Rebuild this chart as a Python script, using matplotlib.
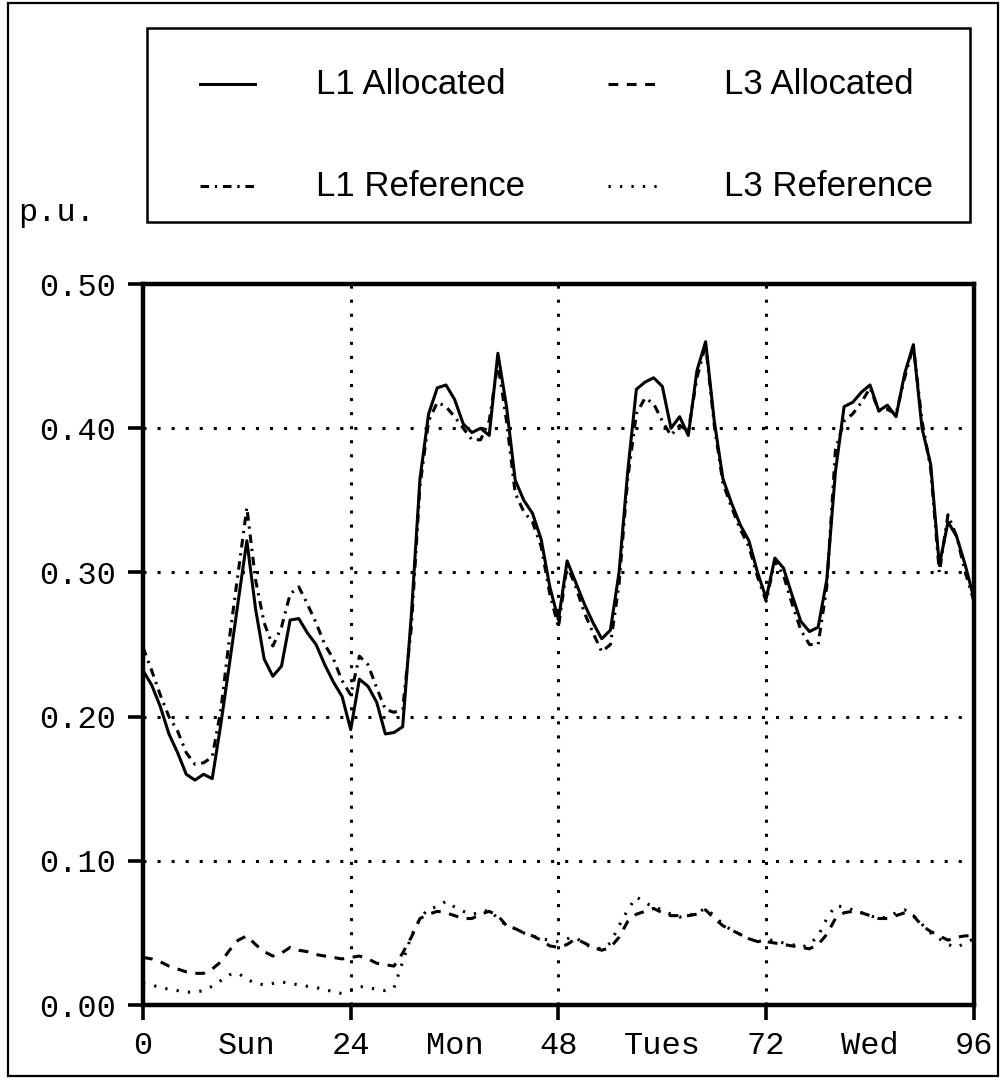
import numpy as np
import matplotlib
matplotlib.use('Agg')
import matplotlib.pyplot as plt
from matplotlib.patches import Rectangle

#Hours from Sunday 00:00 to Thursday 00:00
HOURS = list(range(0, 97))

#Upper pair (L1) in p.u.
L1_ALLOCATED = [0.232, 0.222, 0.207, 0.188, 0.175, 0.160, 0.156, 0.160, 0.157, 0.195,
                0.237, 0.280, 0.322, 0.275, 0.240, 0.228, 0.235, 0.267, 0.268, 0.258,
                0.250, 0.236, 0.224, 0.214, 0.191, 0.226, 0.221, 0.210, 0.188, 0.189,
                0.193, 0.270, 0.365, 0.410, 0.428, 0.430, 0.420, 0.403, 0.397, 0.400,
                0.395, 0.452, 0.415, 0.364, 0.350, 0.341, 0.323, 0.290, 0.267, 0.308,
                0.293, 0.278, 0.265, 0.254, 0.260, 0.300, 0.370, 0.427, 0.432, 0.435,
                0.429, 0.400, 0.408, 0.395, 0.440, 0.460, 0.405, 0.365, 0.348, 0.333,
                0.322, 0.300, 0.282, 0.310, 0.303, 0.284, 0.266, 0.259, 0.262, 0.295,
                0.370, 0.415, 0.418, 0.425, 0.430, 0.412, 0.416, 0.408, 0.438, 0.458,
                0.400, 0.375, 0.305, 0.335, 0.325, 0.305, 0.282]
L1_REFERENCE = [0.248, 0.232, 0.215, 0.200, 0.190, 0.175, 0.167, 0.168, 0.172, 0.205,
                0.255, 0.300, 0.345, 0.295, 0.265, 0.249, 0.262, 0.285, 0.290, 0.278,
                0.265, 0.250, 0.240, 0.225, 0.215, 0.242, 0.236, 0.220, 0.205, 0.203,
                0.205, 0.262, 0.360, 0.405, 0.418, 0.415, 0.408, 0.400, 0.392, 0.392,
                0.405, 0.445, 0.405, 0.355, 0.342, 0.335, 0.318, 0.285, 0.262, 0.305,
                0.290, 0.272, 0.258, 0.245, 0.250, 0.292, 0.365, 0.410, 0.421, 0.417,
                0.405, 0.395, 0.402, 0.398, 0.435, 0.458, 0.402, 0.362, 0.345, 0.330,
                0.318, 0.297, 0.280, 0.308, 0.298, 0.278, 0.260, 0.250, 0.250, 0.290,
                0.385, 0.405, 0.410, 0.418, 0.428, 0.412, 0.413, 0.410, 0.435, 0.457,
                0.405, 0.372, 0.300, 0.340, 0.325, 0.300, 0.280]

#Lower pair (L3) in p.u.
L3_ALLOCATED = [0.033, 0.032, 0.030, 0.027, 0.025, 0.023, 0.022, 0.022, 0.025, 0.030,
                0.038, 0.045, 0.048, 0.042, 0.037, 0.034, 0.036, 0.040, 0.038, 0.037,
                0.035, 0.034, 0.033, 0.032, 0.033, 0.034, 0.032, 0.029, 0.028, 0.027,
                0.036, 0.047, 0.060, 0.063, 0.065, 0.064, 0.062, 0.060, 0.060, 0.063,
                0.065, 0.062, 0.055, 0.053, 0.050, 0.048, 0.045, 0.041, 0.040, 0.042,
                0.046, 0.043, 0.040, 0.038, 0.040, 0.047, 0.058, 0.063, 0.065, 0.067,
                0.064, 0.062, 0.062, 0.062, 0.063, 0.066, 0.060, 0.055, 0.052, 0.049,
                0.046, 0.044, 0.044, 0.043, 0.042, 0.041, 0.040, 0.039, 0.042, 0.049,
                0.060, 0.064, 0.065, 0.064, 0.062, 0.060, 0.060, 0.062, 0.064, 0.062,
                0.055, 0.051, 0.048, 0.045, 0.047, 0.048, 0.048]
L3_REFERENCE = [0.015, 0.014, 0.012, 0.011, 0.010, 0.009, 0.009, 0.010, 0.013, 0.017,
                0.021, 0.022, 0.018, 0.015, 0.014, 0.015, 0.016, 0.015, 0.014, 0.013,
                0.012, 0.011, 0.009, 0.008, 0.010, 0.013, 0.012, 0.011, 0.010, 0.012,
                0.030, 0.048, 0.060, 0.067, 0.068, 0.072, 0.068, 0.065, 0.063, 0.064,
                0.066, 0.060, 0.055, 0.053, 0.050, 0.048, 0.046, 0.045, 0.044, 0.046,
                0.047, 0.042, 0.040, 0.039, 0.043, 0.055, 0.066, 0.075, 0.071, 0.068,
                0.066, 0.063, 0.061, 0.062, 0.064, 0.067, 0.062, 0.056, 0.052, 0.049,
                0.046, 0.044, 0.045, 0.045, 0.043, 0.042, 0.040, 0.042, 0.048, 0.060,
                0.069, 0.068, 0.066, 0.064, 0.062, 0.060, 0.061, 0.064, 0.066, 0.062,
                0.056, 0.050, 0.046, 0.042, 0.040, 0.043, 0.046]

SERIES_NAMES = ['L1 Allocated', 'L3 Allocated', 'L1 Reference', 'L3 Reference']

#Axis labels
X_TICKS = [0, 24, 48, 72, 96]
DAY_POS = [12, 36, 60, 84]
DAY_LABELS = ['Sun', 'Mon', 'Tues', 'Wed']
Y_TICKS = [0.0, 0.1, 0.2, 0.3, 0.4, 0.5]
Y_LABELS = ['0.00', '0.10', '0.20', '0.30', '0.40', '0.50']

MONO = 'Liberation Mono'
SANS = 'Liberation Sans'

#line styles: dash pattern, None for solid
STYLES = {'L1 Allocated': None,
          'L3 Allocated': (3.2, 2.8),
          'L1 Reference': (2.8, 1.9, 0.75, 1.9),
          'L3 Reference': (0.75, 3.0)}
LW = 2.2


def draw_line(ax, x, y, name):
    dash = STYLES[name]
    if dash is None:
        return ax.plot(x, y, color='black', lw=LW, solid_joinstyle='round')[0]
    return ax.plot(x, y, color='black', lw=LW, dashes=dash)[0]


def main():
    fig = plt.figure(figsize=(10.02, 10.8), dpi=100)

    #overlay in pixel units for the legend box, unit label and frame
    over = fig.add_axes([0, 0, 1, 1])
    over.set_xlim(0, 1002)
    over.set_ylim(1080, 0)
    over.axis('off')

    ax = fig.add_axes([0.1427, 0.0694, 0.8293, 0.6676])

    #the four curves
    draw_line(ax, HOURS, L1_ALLOCATED, 'L1 Allocated')
    draw_line(ax, HOURS, L1_REFERENCE, 'L1 Reference')
    draw_line(ax, HOURS, L3_ALLOCATED, 'L3 Allocated')
    draw_line(ax, HOURS, L3_REFERENCE, 'L3 Reference')

    ax.set_xlim(0, 96)
    ax.set_ylim(0, 0.5)

    #dotted grid
    for y in Y_TICKS[1:-1]:
        ax.axhline(y, color='black', lw=2.2, dashes=(1.0, 3.6), zorder=0)
    for x in X_TICKS[1:-1]:
        ax.axvline(x, color='black', lw=2.2, dashes=(1.0, 3.6), zorder=0)

    for s in ax.spines.values():
        s.set_linewidth(3.2)

    ax.set_xticks(X_TICKS)
    ax.set_xticklabels([str(x) for x in X_TICKS])
    ax.set_xticks(DAY_POS, minor=True)
    ax.set_xticklabels(DAY_LABELS, minor=True)
    ax.set_yticks(Y_TICKS)
    ax.set_yticklabels(Y_LABELS)
    ax.tick_params(axis='both', which='major', direction='out', length=11, width=2.6,
                   pad=8, labelsize=23)
    ax.tick_params(axis='x', which='minor', length=0, pad=19, labelsize=23)
    for lab in ax.get_xticklabels(which='both') + ax.get_yticklabels():
        lab.set_family(MONO)

    over.text(18, 213, 'p.u.', family=MONO, fontsize=23, va='center', ha='left')

    #legend box drawn by hand: two rows, two columns
    over.add_patch(Rectangle((147, 28), 823, 194, fill=False, edgecolor='black', lw=1.8))
    rows = [84, 186]
    cols = [200, 608]
    for i, name in enumerate(SERIES_NAMES):
        cx = cols[i % 2]
        cy = rows[i // 2]
        draw_line(over, [cx, cx + 55], [cy, cy], name)
        over.text(cx + 116, cy, name, family=SANS, fontsize=25, va='center', ha='left')

    #outer frame round the whole figure
    over.add_patch(Rectangle((8, 3), 990, 1073, fill=False, edgecolor='black', lw=1.6))

    fig.savefig('out.png', dpi=100)


if __name__ == '__main__':
    main()
